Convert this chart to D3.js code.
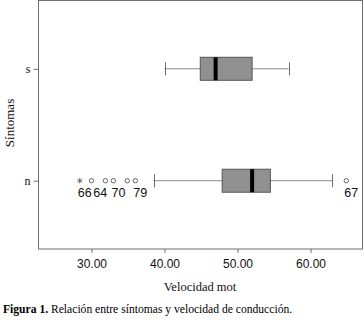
<!DOCTYPE html>
<html>
<head>
<meta charset="utf-8">
<script src="https://cdn.jsdelivr.net/npm/d3@7"></script>
<style>
  body { margin: 0; background: #fff; }
  svg { display: block; }
</style>
</head>
<body>
<script>
// Box plot data
var categories = ["s", "n"];
var whiskerLow = [40.0, 38.5];
var q1 = [44.9, 47.9];
var median = [47.0, 52.0];
var q3 = [52.0, 54.5];
var whiskerHigh = [57.0, 63.0];
// outliers per category, with case labels ("" = no label shown)
var outlierValues = [[], [28.4, 30.0, 31.9, 33.0, 34.9, 36.0, 64.9]];
var outlierExtreme = [[], [true, false, false, false, false, false, false]];
var outlierCases = [[], ["66", "64", "", "70", "", "79", "67"]];
var xTicks = [30, 40, 50, 60];

var serif = "'Liberation Serif', 'Times New Roman', serif";
var sans = "'Liberation Sans', Arial, sans-serif";

var w = 364, h = 320;
var plotLeft = 38.5, plotRight = 362.5, plotTop = 0.5, plotBottom = 249;

var svg = d3.select("body").append("svg")
    .attr("width", w)
    .attr("height", h);

var xScale = d3.scaleLinear()
    .domain([22.74, 67.12])
    .range([plotLeft, plotRight]);

var yScale = d3.scalePoint()
    .domain(categories)
    .range([plotTop, plotBottom])
    .padding(0.61);

// frame
svg.append("rect")
    .attr("x", plotLeft)
    .attr("y", plotTop)
    .attr("width", plotRight - plotLeft)
    .attr("height", plotBottom - plotTop)
    .attr("fill", "none")
    .attr("stroke", "#6e6e6e");

// x axis
var xAxis = d3.axisBottom(xScale)
    .tickValues(xTicks)
    .tickSize(4)
    .tickFormat(d3.format(".2f"));

var gx = svg.append("g")
    .attr("transform", "translate(0," + plotBottom + ")")
    .call(xAxis);
gx.select(".domain").remove();
gx.selectAll("line").attr("stroke", "#6e6e6e");
gx.selectAll("text")
    .attr("y", 10)
    .attr("font-family", sans)
    .attr("font-size", 12)
    .attr("fill", "#111");

// y axis
var yAxis = d3.axisLeft(yScale).tickSize(5).tickPadding(3);
var gy = svg.append("g")
    .attr("transform", "translate(" + plotLeft + ",0)")
    .call(yAxis);
gy.select(".domain").remove();
gy.selectAll("line").attr("stroke", "#6e6e6e");
gy.selectAll("text")
    .attr("font-family", serif)
    .attr("font-size", 12)
    .attr("fill", "#111");

// axis titles
svg.append("text")
    .attr("x", 200)
    .attr("y", 291)
    .attr("text-anchor", "middle")
    .attr("font-family", serif)
    .attr("font-size", 12.5)
    .attr("fill", "#111")
    .text("Velocidad mot");

svg.append("text")
    .attr("transform", "translate(14,123) rotate(-90)")
    .attr("text-anchor", "middle")
    .attr("font-family", serif)
    .attr("font-size", 13)
    .attr("fill", "#111")
    .text("Síntomas");

// boxes
var boxH = 23, capH = 13;
var groups = svg.selectAll("g.box")
    .data(categories)
    .enter()
    .append("g")
    .attr("class", "box")
    .attr("transform", function (d) { return "translate(0," + yScale(d) + ")"; });

// whisker lines
groups.append("line")
    .attr("x1", function (d, i) { return xScale(whiskerLow[i]); })
    .attr("x2", function (d, i) { return xScale(whiskerHigh[i]); })
    .attr("y1", 0).attr("y2", 0)
    .attr("stroke", "#8a8a8a");

// caps
groups.selectAll("line.cap")
    .data(function (d, i) { return [whiskerLow[i], whiskerHigh[i]]; })
    .enter()
    .append("line")
    .attr("class", "cap")
    .attr("x1", function (v) { return Math.round(xScale(v)) + 0.5; })
    .attr("x2", function (v) { return Math.round(xScale(v)) + 0.5; })
    .attr("y1", -capH / 2).attr("y2", capH / 2)
    .attr("stroke", "#6e6e6e");

// box
groups.append("rect")
    .attr("x", function (d, i) { return xScale(q1[i]); })
    .attr("width", function (d, i) { return xScale(q3[i]) - xScale(q1[i]); })
    .attr("y", -boxH / 2)
    .attr("height", boxH)
    .attr("fill", "#909090")
    .attr("stroke", "#555");

// median
groups.append("line")
    .attr("x1", function (d, i) { return xScale(median[i]); })
    .attr("x2", function (d, i) { return xScale(median[i]); })
    .attr("y1", -boxH / 2).attr("y2", boxH / 2)
    .attr("stroke", "#000")
    .attr("stroke-width", 4);

// outliers
var star = d3.symbol().type(d3.symbolAsterisk).size(22);
groups.each(function (d, i) {
    var g = d3.select(this);
    var pts = outlierValues[i].map(function (v, j) {
        return { v: v, extreme: outlierExtreme[i][j], label: outlierCases[i][j] };
    });
    g.selectAll("circle")
        .data(pts.filter(function (p) { return !p.extreme; }))
        .enter()
        .append("circle")
        .attr("cx", function (p) { return xScale(p.v); })
        .attr("cy", 0)
        .attr("r", 2.2)
        .attr("fill", "none")
        .attr("stroke", "#444")
        .attr("stroke-width", 0.8);
    g.selectAll("path.star")
        .data(pts.filter(function (p) { return p.extreme; }))
        .enter()
        .append("path")
        .attr("class", "star")
        .attr("transform", function (p) { return "translate(" + xScale(p.v) + ",0)"; })
        .attr("d", star)
        .attr("fill", "none")
        .attr("stroke", "#444")
        .attr("stroke-width", 0.8);

    // case labels, pushed right when they would collide
    var labels = g.selectAll("text.case")
        .data(pts.filter(function (p) { return p.label !== ""; }))
        .enter()
        .append("text")
        .attr("class", "case")
        .attr("y", 16)
        .attr("font-family", sans)
        .attr("font-size", 12.5)
        .attr("fill", "#111")
        .text(function (p) { return p.label; });
    var lastEnd = -Infinity;
    labels.each(function (p) {
        var tw = this.getComputedTextLength();
        var x0 = Math.max(xScale(p.v) + 5 - tw / 2, lastEnd + 1.5);
        d3.select(this).attr("x", x0);
        lastEnd = x0 + tw;
    });
});

// caption
var cap = svg.append("text")
    .attr("x", 3)
    .attr("y", 313)
    .attr("font-family", serif)
    .attr("font-size", 11.6)
    .attr("fill", "#000");
cap.append("tspan").attr("font-weight", "bold").text("Figura 1.");
cap.append("tspan").text(" Relación entre síntomas y velocidad de conducción.");
</script>
</body>
</html>
